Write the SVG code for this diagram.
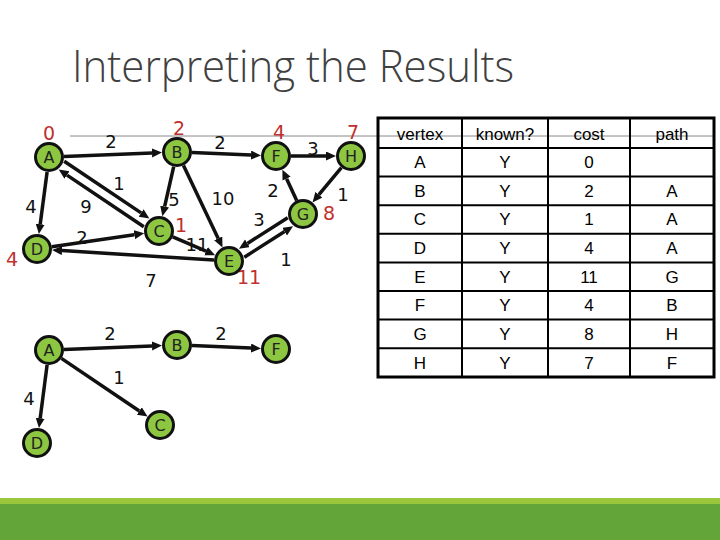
<svg xmlns="http://www.w3.org/2000/svg" width="720" height="540" viewBox="0 0 720 540">
<style>
.title{font-family:"Open Sans","Liberation Sans",sans-serif;font-weight:300;font-size:44px;fill:#404040}
.node circle{fill:#8DC641;stroke:#111;stroke-width:3}
.node text{font-family:"DejaVu Sans",sans-serif;font-size:16px;fill:#222;text-anchor:middle;dominant-baseline:central}
.edge{stroke:#111;stroke-width:3.5;fill:none;marker-end:url(#arr)}
.wl{font-family:"DejaVu Sans",sans-serif;font-size:18px;fill:#111;text-anchor:middle;dominant-baseline:central}
.cl{font-family:"DejaVu Sans",sans-serif;font-size:19px;fill:#C0302E;text-anchor:middle;dominant-baseline:central}
.tt{font-family:"Liberation Sans",Arial,sans-serif;font-size:17px;fill:#000;text-anchor:middle;dominant-baseline:central}
.grid{stroke:#000;stroke-width:2}
</style>
<defs>
<marker id="arr" markerUnits="userSpaceOnUse" markerWidth="11" markerHeight="10" refX="0" refY="4.5" orient="auto">
<path d="M0,0 L10,4.5 L0,9 z" fill="#111"/>
</marker>
</defs>
<rect width="720" height="540" fill="#fff"/>
<text class="title" x="72" y="82" textLength="442" lengthAdjust="spacingAndGlyphs">Interpreting the Results</text>
<line x1="70" y1="136" x2="714" y2="136" stroke="#888" stroke-width="1"/>

<g id="connectors">
<line class="edge" x1="64" y1="156.4" x2="152" y2="153"/>
<line class="edge" x1="192" y1="152.6" x2="251" y2="155"/>
<line class="edge" x1="291" y1="156" x2="326" y2="156"/>
<line class="edge" x1="47.1" y1="171.9" x2="40.2" y2="224.2"/>
<line class="edge" x1="64.2" y1="161.2" x2="141.1" y2="212.9"/>
<line class="edge" x1="143.8" y1="226.8" x2="67" y2="175.1"/>
<line class="edge" x1="173.7" y1="166.6" x2="164.6" y2="206.6"/>
<line class="edge" x1="183.5" y1="165.5" x2="218.2" y2="238.4"/>
<line class="edge" x1="51.8" y1="246.8" x2="134.3" y2="234.7"/>
<line class="edge" x1="172.8" y1="236.9" x2="206" y2="251.2"/>
<line class="edge" x1="214" y1="260.1" x2="62" y2="250.6"/>
<line class="edge" x1="296.7" y1="200.4" x2="286.6" y2="178.7"/>
<line class="edge" x1="341.4" y1="167.6" x2="318.9" y2="194.7"/>
<line class="edge" x1="287.7" y1="217.8" x2="247.4" y2="243.4"/>
<line class="edge" x1="244.3" y1="257.2" x2="284.6" y2="231.6"/>
<line class="edge" x1="64" y1="349.4" x2="152" y2="346"/>
<line class="edge" x1="192" y1="345.6" x2="251" y2="348"/>
<line class="edge" x1="61.4" y1="358.4" x2="139.3" y2="411"/>
<line class="edge" x1="47.1" y1="364.9" x2="40.2" y2="418.2"/>
</g>

<g id="edge-labels">
<text class="wl" x="111" y="141">2</text>
<text class="wl" x="220" y="142">2</text>
<text class="wl" x="313" y="148">3</text>
<text class="wl" x="119" y="183">1</text>
<text class="wl" x="86" y="206">9</text>
<text class="wl" x="31" y="206">4</text>
<text class="wl" x="174" y="199">5</text>
<text class="wl" x="223" y="198">10</text>
<text class="wl" x="273" y="190">2</text>
<text class="wl" x="343" y="194">1</text>
<text class="wl" x="259" y="219">3</text>
<text class="wl" x="82" y="237">2</text>
<text class="wl" x="197" y="244">11</text>
<text class="wl" x="286" y="259">1</text>
<text class="wl" x="151" y="280">7</text>
<text class="wl" x="110" y="333">2</text>
<text class="wl" x="221" y="333">2</text>
<text class="wl" x="119" y="377">1</text>
<text class="wl" x="29" y="398">4</text>
</g>

<g id="cost-labels">
<text class="cl" x="49" y="133">0</text>
<text class="cl" x="179" y="128">2</text>
<text class="cl" x="279" y="132">4</text>
<text class="cl" x="353" y="132">7</text>
<text class="cl" x="329" y="213">8</text>
<text class="cl" x="181" y="225">1</text>
<text class="cl" x="12" y="259">4</text>
<text class="cl" x="249" y="277">11</text>
</g>

<g id="node-A" class="node"><circle cx="49" cy="157" r="13.5"/><text x="49" y="157">A</text></g>
<g id="node-B" class="node"><circle cx="177" cy="152" r="13.5"/><text x="177" y="152">B</text></g>
<g id="node-F" class="node"><circle cx="276" cy="156" r="13.5"/><text x="276" y="156">F</text></g>
<g id="node-H" class="node"><circle cx="351" cy="156" r="13.5"/><text x="351" y="156">H</text></g>
<g id="node-G" class="node"><circle cx="303" cy="214" r="13.5"/><text x="303" y="214">G</text></g>
<g id="node-C" class="node"><circle cx="159" cy="231" r="13.5"/><text x="159" y="231">C</text></g>
<g id="node-D" class="node"><circle cx="37" cy="249" r="13.5"/><text x="37" y="249">D</text></g>
<g id="node-E" class="node"><circle cx="229" cy="261" r="13.5"/><text x="229" y="261">E</text></g>

<g id="node-A2" class="node"><circle cx="49" cy="350" r="13.5"/><text x="49" y="350">A</text></g>
<g id="node-B2" class="node"><circle cx="177" cy="345" r="13.5"/><text x="177" y="345">B</text></g>
<g id="node-F2" class="node"><circle cx="276" cy="349" r="13.5"/><text x="276" y="349">F</text></g>
<g id="node-C2" class="node"><circle cx="160" cy="425" r="13.5"/><text x="160" y="425">C</text></g>
<g id="node-D2" class="node"><circle cx="37" cy="443" r="13.5"/><text x="37" y="443">D</text></g>

<g id="table">
<rect x="378" y="118" width="336" height="259" fill="none" stroke="#000" stroke-width="3"/>
<line class="grid" x1="462" y1="118" x2="462" y2="377"/>
<line class="grid" x1="548" y1="118" x2="548" y2="377"/>
<line class="grid" x1="630" y1="118" x2="630" y2="377"/>
<line class="grid" x1="378" y1="148" x2="714" y2="148"/>
<line class="grid" x1="378" y1="176.6" x2="714" y2="176.6"/>
<line class="grid" x1="378" y1="205.2" x2="714" y2="205.2"/>
<line class="grid" x1="378" y1="233.8" x2="714" y2="233.8"/>
<line class="grid" x1="378" y1="262.4" x2="714" y2="262.4"/>
<line class="grid" x1="378" y1="291" x2="714" y2="291"/>
<line class="grid" x1="378" y1="319.6" x2="714" y2="319.6"/>
<line class="grid" x1="378" y1="348.2" x2="714" y2="348.2"/>
<text class="tt" x="420" y="134">vertex</text><text class="tt" x="505" y="134">known?</text><text class="tt" x="589" y="134">cost</text><text class="tt" x="672" y="134">path</text>
<text class="tt" x="420" y="162">A</text><text class="tt" x="505" y="162">Y</text><text class="tt" x="589" y="162">0</text>
<text class="tt" x="420" y="191">B</text><text class="tt" x="505" y="191">Y</text><text class="tt" x="589" y="191">2</text><text class="tt" x="672" y="191">A</text>
<text class="tt" x="420" y="219.5">C</text><text class="tt" x="505" y="219.5">Y</text><text class="tt" x="589" y="219.5">1</text><text class="tt" x="672" y="219.5">A</text>
<text class="tt" x="420" y="248">D</text><text class="tt" x="505" y="248">Y</text><text class="tt" x="589" y="248">4</text><text class="tt" x="672" y="248">A</text>
<text class="tt" x="420" y="277">E</text><text class="tt" x="505" y="277">Y</text><text class="tt" x="589" y="277">11</text><text class="tt" x="672" y="277">G</text>
<text class="tt" x="420" y="305.5">F</text><text class="tt" x="505" y="305.5">Y</text><text class="tt" x="589" y="305.5">4</text><text class="tt" x="672" y="305.5">B</text>
<text class="tt" x="420" y="334">G</text><text class="tt" x="505" y="334">Y</text><text class="tt" x="589" y="334">8</text><text class="tt" x="672" y="334">H</text>
<text class="tt" x="420" y="363">H</text><text class="tt" x="505" y="363">Y</text><text class="tt" x="589" y="363">7</text><text class="tt" x="672" y="363">F</text>
</g>

<rect x="0" y="498" width="720" height="6" fill="#9BC73D"/>
<rect x="0" y="504" width="720" height="36" fill="#63A538"/>
</svg>
